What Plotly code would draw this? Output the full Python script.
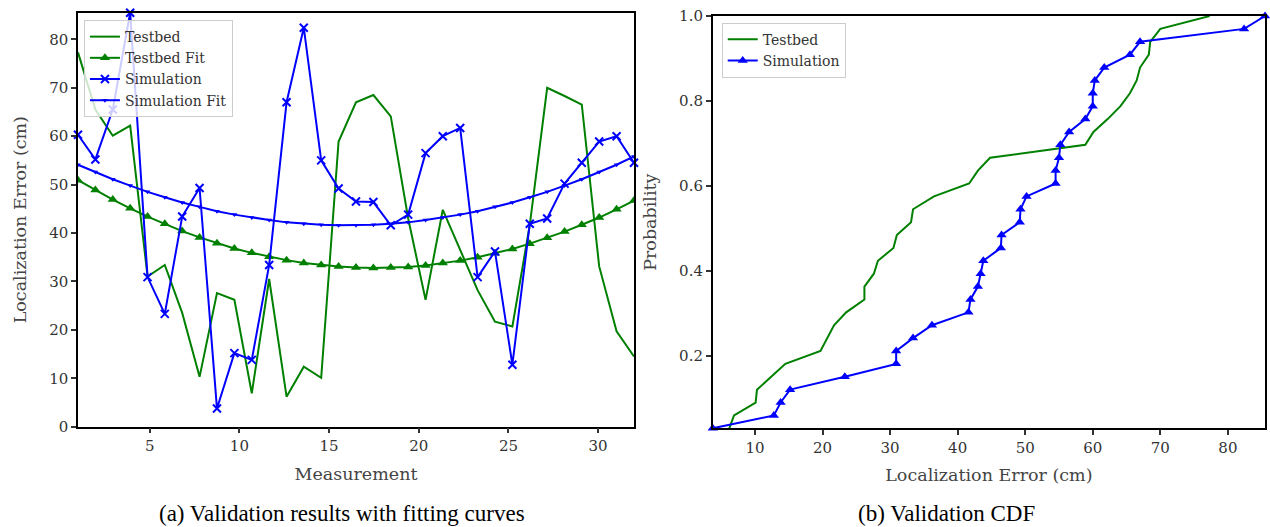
import numpy as np
import plotly.graph_objects as go

# measurement positions (33 samples spread over 1..32)
measurement = [1.0, 1.97, 2.94, 3.91, 4.88, 5.84, 6.81, 7.78, 8.75, 9.72, 10.69,
               11.66, 12.63, 13.59, 14.56, 15.53, 16.5, 17.47, 18.44, 19.41, 20.38,
               21.34, 22.31, 23.28, 24.25, 25.22, 26.19, 27.16, 28.13, 29.09, 30.06,
               31.03, 32.0]

testbed = [77.3, 65.5, 60.1, 62.2, 31.0, 33.4, 23.5, 10.3, 27.6, 26.2, 6.9,
           30.5, 6.2, 12.4, 10.1, 58.9, 67.0, 68.5, 64.1, 43.0, 26.2,
           44.8, 36.5, 28.2, 21.7, 20.7, 41.7, 70.0, 68.3, 66.5, 33.1,
           19.7, 14.5]

testbed_fit = [50.9, 48.9, 46.9, 45.1, 43.4, 41.9, 40.4, 39.1, 37.9, 36.8, 35.9,
               35.1, 34.4, 33.8, 33.4, 33.1, 32.9, 32.8, 32.9, 33.0, 33.3,
               33.8, 34.3, 35.0, 35.8, 36.7, 37.8, 39.0, 40.3, 41.7, 43.2,
               44.9, 46.7]

simulation = [60.3, 55.2, 65.5, 85.5, 30.9, 23.3, 43.4, 49.3, 3.75, 15.2, 13.8,
              33.4, 67.0, 82.4, 55.0, 49.2, 46.5, 46.4, 41.6, 43.8, 56.5,
              60.0, 61.7, 30.9, 36.2, 12.8, 41.9, 43.0, 50.2, 54.5, 58.9,
              60.0, 54.5]

simulation_fit = [54.1, 52.6, 51.1, 49.8, 48.5, 47.4, 46.3, 45.4, 44.5, 43.8, 43.2,
                  42.7, 42.2, 41.9, 41.7, 41.6, 41.6, 41.7, 41.9, 42.2, 42.7,
                  43.2, 43.8, 44.5, 45.4, 46.3, 47.4, 48.5, 49.8, 51.1, 52.6,
                  54.1, 55.8]

GREEN = 'green'
BLUE = 'blue'
TICKFONT = dict(family='DejaVu Serif', size=15, color='#333')
TITLEFONT = dict(family='DejaVu Serif', size=17.5, color='#444')

fig = go.Figure()

# (a) validation results
fig.add_trace(go.Scatter(x=measurement, y=testbed, mode='lines', name='Testbed',
                         line=dict(color=GREEN, width=2), legend='legend',
                         xaxis='x', yaxis='y'))
fig.add_trace(go.Scatter(x=measurement, y=testbed_fit, mode='lines+markers', name='Testbed Fit',
                         line=dict(color=GREEN, width=2),
                         marker=dict(symbol='triangle-up', size=9, color=GREEN),
                         legend='legend', xaxis='x', yaxis='y'))
fig.add_trace(go.Scatter(x=measurement, y=simulation, mode='lines+markers', name='Simulation',
                         line=dict(color=BLUE, width=2),
                         marker=dict(symbol='x-thin', size=8, color=BLUE,
                                     line=dict(color=BLUE, width=2)),
                         legend='legend', xaxis='x', yaxis='y', cliponaxis=False))
fig.add_trace(go.Scatter(x=measurement, y=simulation_fit, mode='lines+markers', name='Simulation Fit',
                         line=dict(color=BLUE, width=2),
                         marker=dict(symbol='triangle-down', size=5, color=BLUE),
                         legend='legend', xaxis='x', yaxis='y'))

# (b) CDF
n = len(testbed)
prob = np.arange(1, n + 1) / n
fig.add_trace(go.Scatter(x=np.sort(testbed), y=prob, mode='lines', name='Testbed',
                         line=dict(color=GREEN, width=2), legend='legend2',
                         xaxis='x2', yaxis='y2'))
fig.add_trace(go.Scatter(x=np.sort(simulation), y=prob, mode='lines+markers', name='Simulation',
                         line=dict(color=BLUE, width=2),
                         marker=dict(symbol='triangle-up', size=9, color=BLUE),
                         legend='legend2', xaxis='x2', yaxis='y2', cliponaxis=False))

axis_common = dict(showgrid=False, zeroline=False, showline=True, linecolor='black',
                   linewidth=1.5, mirror=True, ticks='outside', ticklen=5,
                   tickwidth=1.5, tickcolor='#333', tickfont=TICKFONT, automargin=False)

legend_common = dict(bgcolor='rgba(255,255,255,0.8)', bordercolor='#ccc', borderwidth=1,
                     font=dict(family='DejaVu Serif', size=14, color='#333'),
                     xanchor='left', yanchor='top', itemwidth=30)

fig.update_layout(
    width=1270, height=527,
    margin=dict(l=0, r=0, t=0, b=0),
    paper_bgcolor='white', plot_bgcolor='white',
    xaxis=dict(domain=[0.0614, 0.4992], range=[1, 32], tickvals=[5, 10, 15, 20, 25, 30],
               title=dict(text='Measurement', font=TITLEFONT, standoff=13),
               anchor='y', **axis_common),
    yaxis=dict(domain=[0.1903, 0.9759], range=[0, max(simulation)],
               tickvals=[0, 10, 20, 30, 40, 50, 60, 70, 80],
               title=dict(text='Localization Error (cm)', font=TITLEFONT, standoff=18),
               anchor='x', **axis_common),
    xaxis2=dict(domain=[0.5612, 0.9961], range=[min(simulation), max(simulation)],
                tickvals=[10, 20, 30, 40, 50, 60, 70, 80],
                title=dict(text='Localization Error (cm)', font=TITLEFONT, standoff=13),
                anchor='y2', **axis_common),
    yaxis2=dict(domain=[0.1873, 0.9696], range=[1 / n, 1.0],
                tickvals=[0.2, 0.4, 0.6, 0.8, 1.0], ticktext=['0.2', '0.4', '0.6', '0.8', '1.0'],
                title=dict(text='Probability', font=TITLEFONT, standoff=18),
                anchor='x2', **axis_common),
    legend=dict(x=0.0661, y=0.962, **legend_common),
    legend2=dict(x=0.5683, y=0.957, **legend_common),
)

# sub-figure captions
fig.add_annotation(text='(a) Validation results with fitting curves', x=0.2693, y=0.026,
                   xref='paper', yref='paper', showarrow=False, xanchor='center', yanchor='middle',
                   font=dict(family='Liberation Serif', size=23, color='black'))
fig.add_annotation(text='(b) Validation CDF', x=0.745, y=0.026,
                   xref='paper', yref='paper', showarrow=False, xanchor='center', yanchor='middle',
                   font=dict(family='Liberation Serif', size=23, color='black'))

# drop the default page margin so the figure sits at the window's corner
fig.write_html("out.html", config={'displayModeBar': False},
               post_script="document.body.style.margin='0';")
